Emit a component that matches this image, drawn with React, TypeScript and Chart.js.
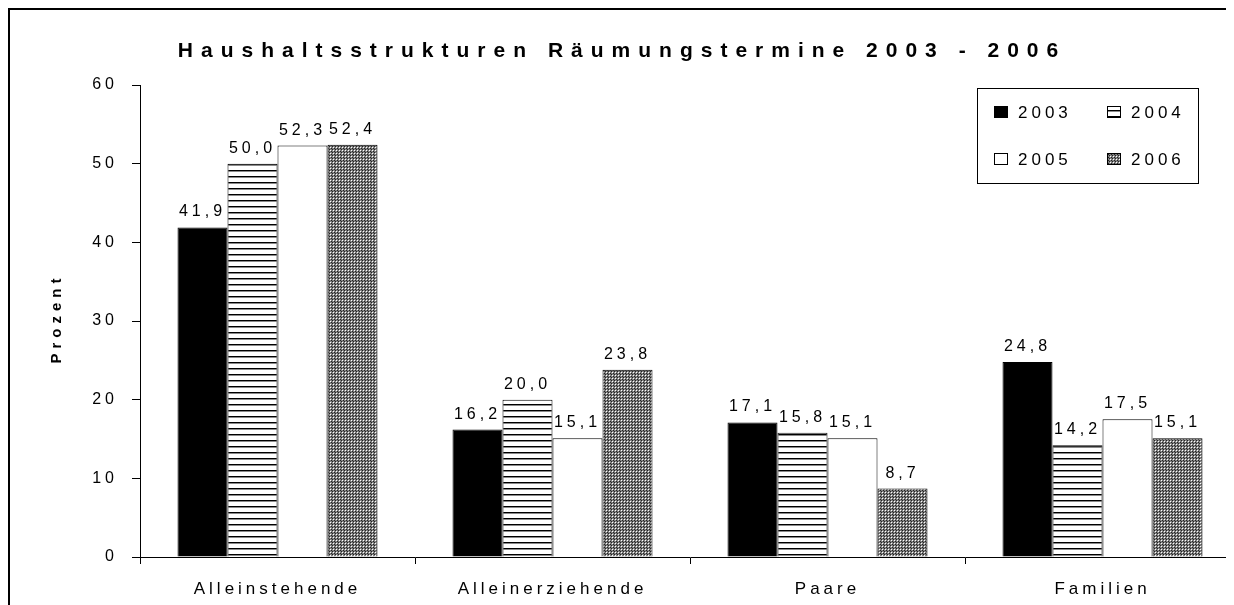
import React, { useEffect, useRef } from 'react';
import { Chart, registerables } from 'chart.js';

Chart.register(...registerables);

const categories = ['Alleinstehende', 'Alleinerziehende', 'Paare', 'Familien'];
const years = ['2003', '2004', '2005', '2006'];
const values2003 = [41.9, 16.2, 17.1, 24.8];
const values2004 = [50.0, 20.0, 15.8, 14.2];
const values2005 = [52.3, 15.1, 15.1, 17.5];
const values2006 = [52.4, 23.8, 8.7, 15.1];
const yTicks = [0, 10, 20, 30, 40, 50, 60];
const titleText = 'Haushaltsstrukturen Räumungstermine 2003 - 2006';
const yTitleText = 'Prozent';

const FAMILY = '"Liberation Sans", Arial, sans-serif';
const W = 1250;
const H = 620;

const fmt = (v: number) => v.toFixed(1).replace('.', ',');

function makeStripe(ctx: CanvasRenderingContext2D) {
  const c = document.createElement('canvas');
  c.width = 6;
  c.height = 6;
  const g = c.getContext('2d')!;
  g.fillStyle = '#ffffff';
  g.fillRect(0, 0, 6, 6);
  g.fillStyle = '#000000';
  g.fillRect(0, 0, 6, 1);
  g.fillStyle = '#8a8a8a';
  g.fillRect(0, 1, 6, 1);
  return ctx.createPattern(c, 'repeat')!;
}

function makeDots(ctx: CanvasRenderingContext2D) {
  const c = document.createElement('canvas');
  c.width = 3;
  c.height = 3;
  const g = c.getContext('2d')!;
  g.fillStyle = '#808080';
  g.fillRect(0, 0, 3, 3);
  g.fillStyle = '#ffffff';
  g.fillRect(1, 1, 1, 1);
  g.fillStyle = '#222222';
  g.fillRect(0, 0, 1, 1);
  g.fillRect(2, 2, 1, 1);
  return ctx.createPattern(c, 'repeat')!;
}

export default function App() {
  const ref = useRef<HTMLCanvasElement>(null);

  useEffect(() => {
    document.documentElement.style.overflow = 'hidden';
    document.body.style.overflow = 'hidden';
    const canvas = ref.current!;
    const ctx = canvas.getContext('2d')!;
    const stripe = makeStripe(ctx);
    const dots = makeDots(ctx);
    const fills: any[] = ['#000000', stripe, '#ffffff', dots];
    const seriesValues = [values2003, values2004, values2005, values2006];

    const spacingPlugin = {
      id: 'spacing',
      beforeLayout(chart: any) {
        chart.ctx.letterSpacing = '4px';
      },
      beforeDraw(chart: any) {
        chart.ctx.letterSpacing = '4px';
      },
    };

    const framePlugin = {
      id: 'frame',
      beforeDraw(chart: any) {
        const c = chart.ctx;
        c.save();
        c.fillStyle = '#ffffff';
        c.fillRect(0, 0, W, H);
        c.fillStyle = '#000000';
        c.fillRect(0, 0, W, 2);
        c.fillRect(0, 0, 2, H);
        c.restore();
      },
    };

    const labelsPlugin = {
      id: 'valueLabels',
      afterDatasetsDraw(chart: any) {
        const c = chart.ctx;
        c.save();
        c.letterSpacing = '4px';
        c.font = `16px ${FAMILY}`;
        c.fillStyle = '#000';
        c.textAlign = 'center';
        c.textBaseline = 'alphabetic';
        chart.data.datasets.forEach((ds: any, i: number) => {
          const meta = chart.getDatasetMeta(i);
          meta.data.forEach((el: any, j: number) => {
            c.fillText(fmt(ds.data[j]), el.x, el.y - 11);
          });
        });
        c.restore();
      },
    };

    const textPlugin = {
      id: 'texts',
      afterDraw(chart: any) {
        const c = chart.ctx;
        const area = chart.chartArea;
        c.save();
        // title
        c.letterSpacing = '8px';
        c.font = `bold 21px ${FAMILY}`;
        c.fillStyle = '#000';
        c.textAlign = 'center';
        c.textBaseline = 'middle';
        c.fillText(titleText, 614, 43);
        // y-axis title
        c.save();
        c.letterSpacing = '5px';
        c.font = `bold 15px ${FAMILY}`;
        c.translate(49, (area.top + area.bottom) / 2);
        c.rotate(-Math.PI / 2);
        c.textAlign = 'center';
        c.textBaseline = 'middle';
        c.fillText(yTitleText, 2.5, 0);
        c.restore();
        // legend
        const bx = 969.5, by = 80.5, bw = 221, bh = 95;
        c.lineWidth = 1;
        c.strokeStyle = '#000';
        c.strokeRect(bx, by, bw, bh);
        c.letterSpacing = '4px';
        c.font = `17px ${FAMILY}`;
        c.textAlign = 'left';
        c.textBaseline = 'alphabetic';
        const cols = [986, 1099];
        const rows = [98, 145];
        years.forEach((yr, i) => {
          const sx = cols[i % 2];
          const sy = rows[Math.floor(i / 2)];
          c.fillStyle = fills[i];
          c.fillRect(sx, sy, 14, 12);
          c.strokeRect(sx + 0.5, sy + 0.5, 13, 11);
          c.fillStyle = '#000';
          c.fillText(yr, sx + 24, sy + 12);
        });
        c.restore();
      },
    };

    const chart = new Chart(canvas, {
      type: 'bar',
      data: {
        labels: categories,
        datasets: years.map((yr, i) => ({
          label: yr,
          data: seriesValues[i],
          backgroundColor: fills[i],
          borderColor: '#000000',
          borderWidth: 1,
          categoryPercentage: 200 / 275,
          barPercentage: 1,
        })),
      },
      options: {
        responsive: false,
        animation: false,
        devicePixelRatio: 1,
        layout: { padding: { top: 77, right: 18, bottom: 0, left: 0 } },
        plugins: {
          legend: { display: false },
          title: { display: false },
          tooltip: { enabled: false },
        },
        scales: {
          x: {
            type: 'category',
            offset: true,
            grid: {
              display: true,
              drawOnChartArea: false,
              drawTicks: true,
              tickLength: 7,
              color: '#000',
              lineWidth: 1,
              offset: true,
            },
            border: { display: true, color: '#000', width: 1 },
            ticks: {
              color: '#000',
              font: { family: FAMILY, size: 17 },
              padding: 15,
              maxRotation: 0,
              autoSkip: false,
            },
            afterFit: (s: any) => {
              s.height = 71;
            },
          },
          y: {
            min: 0,
            max: 60,
            afterBuildTicks: (s: any) => {
              s.ticks = yTicks.map((v) => ({ value: v }));
            },
            grid: {
              display: true,
              drawOnChartArea: false,
              tickLength: 8,
              color: '#000',
              lineWidth: 1,
            },
            border: { display: true, color: '#000', width: 1 },
            ticks: {
              color: '#000',
              font: { family: FAMILY, size: 16 },
              padding: 14,
            },
            afterFit: (s: any) => {
              s.width = 132;
            },
          },
        },
      },
      plugins: [spacingPlugin, framePlugin, labelsPlugin, textPlugin],
    } as any);

    return () => chart.destroy();
  }, []);

  return (
    <div style={{ width: 1226, height: 597, overflow: 'hidden', position: 'relative' }}>
      <canvas ref={ref} width={W} height={H} style={{ display: 'block', width: W, height: H }} />
    </div>
  );
}
